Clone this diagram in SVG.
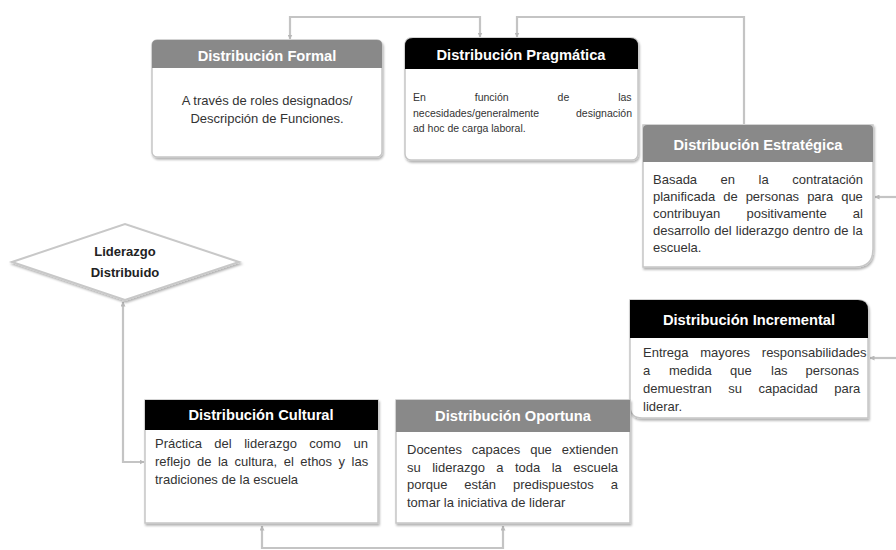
<svg xmlns="http://www.w3.org/2000/svg" width="896" height="550" viewBox="0 0 896 550">
<defs>
<style>
.hd{font-family:"Liberation Sans",Arial,sans-serif;font-weight:bold;font-size:14.7px;fill:#fff;text-anchor:middle}
.bt{font-family:"Liberation Sans",Arial,sans-serif;font-size:13px;fill:#333}
.bs{font-family:"Liberation Sans",Arial,sans-serif;font-size:10.5px;fill:#333}
.box{fill:#fff;stroke:#c6c6c6;stroke-width:1.5}
.gray{fill:#898989}
.blk{fill:#000}
.con{fill:none;stroke:#c4c4c4;stroke-width:2.2}
.dt{font-family:"Liberation Sans",Arial,sans-serif;font-weight:bold;font-size:13px;fill:#222;text-anchor:middle}
</style>
<filter id="sh" x="-10%" y="-10%" width="125%" height="130%">
<feDropShadow dx="1" dy="2" stdDeviation="1.2" flood-color="#000" flood-opacity="0.3"/>
</filter>
<marker id="ar" viewBox="0 0 10 10" refX="9" refY="5" markerWidth="5" markerHeight="5" orient="auto-start-reverse" markerUnits="userSpaceOnUse">
<path d="M0,0 L10,5 L0,10 Z" fill="#b8b8b8"/>
</marker>
</defs>
<rect width="896" height="550" fill="#fff"/>
<g id="connectors">
<path class="con" d="M290,39 V17 H480 V37" marker-start="url(#ar)" marker-end="url(#ar)"/>
<path class="con" d="M744,124 V17 H517 V37" marker-end="url(#ar)"/>
<path class="con" d="M896,197 H875" marker-end="url(#ar)"/>
<path class="con" d="M896,358 H870" marker-end="url(#ar)"/>
<path class="con" d="M123,302 V462 H144" marker-start="url(#ar)" marker-end="url(#ar)"/>
<path class="con" d="M262,526 V548 H503 V526" marker-start="url(#ar)" marker-end="url(#ar)"/>
</g>
<g id="node-liderazgo">
<polygon points="12,262 125,224 239,262 125,300" fill="#fff" stroke="#c8c8c8" stroke-width="2" filter="url(#sh)"/>
<text class="dt" x="125" y="256">Liderazgo</text>
<text class="dt" x="125" y="277">Distribuido</text>
</g>
<g id="node-formal">
<rect class="box" x="152" y="40" width="230" height="117" rx="5" filter="url(#sh)"/>
<path class="gray" d="M152,68 V45 Q152,40 157,40 H377 Q382,40 382,45 V68 Z"/>
<text class="hd" x="267" y="61">Distribución Formal</text>
<text class="bt" x="267" y="105" text-anchor="middle">A través de roles designados/</text>
<text class="bt" x="267" y="123" text-anchor="middle">Descripción de Funciones.</text>
</g>
<g id="node-pragmatica">
<rect class="box" x="405" y="38" width="233" height="122" rx="6" filter="url(#sh)"/>
<path class="blk" d="M405,69 V46 Q405,38 413,38 H630 Q638,38 638,46 V69 Z"/>
<text class="hd" x="521" y="60">Distribución Pragmática</text>
<text class="bs" x="413" y="101" word-spacing="46">En función de las</text>
<text class="bs" x="413" y="117" word-spacing="34">necesidades/generalmente designación</text>
<text class="bs" x="413" y="132">ad hoc de carga laboral.</text>
</g>
<g id="node-estrategica">
<path class="box" d="M643,125 H873 V249 Q873,267 855,267 H643 Z" filter="url(#sh)"/>
<path class="gray" d="M643,162 V129 Q643,125 647,125 H869 Q873,125 873,129 V162 Z"/>
<text class="hd" x="758" y="150">Distribución Estratégica</text>
<text class="bt" x="653" y="184" word-spacing="19.9">Basada en la contratación</text>
<text class="bt" x="653" y="201" word-spacing="4.4">planificada de personas para que</text>
<text class="bt" x="653" y="218" word-spacing="22.6">contribuyan positivamente al</text>
<text class="bt" x="653" y="235" word-spacing="0.6">desarrollo del liderazgo dentro de la</text>
<text class="bt" x="653" y="252">escuela.</text>
</g>
<g id="node-incremental">
<path class="box" d="M630,300 H858 Q868,300 868,310 V418 H642 Q630,418 630,406 Z" filter="url(#sh)"/>
<path class="blk" d="M630,338 V300 H858 Q868,300 868,310 V338 Z"/>
<text class="hd" x="749" y="325">Distribución Incremental</text>
<text class="bt" x="643" y="357" word-spacing="8.1">Entrega mayores responsabilidades</text>
<text class="bt" x="643" y="375">a</text>
<text class="bt" x="669" y="375">medida</text>
<text class="bt" x="730" y="375">que</text>
<text class="bt" x="771" y="375">las</text>
<text class="bt" x="859" y="375" text-anchor="end">personas</text>
<text class="bt" x="643" y="393" word-spacing="12.9">demuestran su capacidad para</text>
<text class="bt" x="643" y="411">liderar.</text>
</g>
<g id="node-cultural">
<rect class="box" x="145" y="400" width="233" height="123" filter="url(#sh)"/>
<rect class="blk" x="145" y="400" width="233" height="30"/>
<text class="hd" x="261" y="420">Distribución Cultural</text>
<text class="bt" x="155" y="448" word-spacing="8.8">Práctica del liderazgo como un</text>
<text class="bt" x="155" y="466" word-spacing="2.9">reflejo de la cultura, el ethos y las</text>
<text class="bt" x="155" y="484">tradiciones de la escuela</text>
</g>
<g id="node-oportuna">
<rect class="box" x="396" y="400" width="234" height="123" filter="url(#sh)"/>
<rect class="gray" x="396" y="400" width="234" height="32"/>
<text class="hd" x="513" y="421">Distribución Oportuna</text>
<text class="bt" x="407" y="454" word-spacing="6.3">Docentes capaces que extienden</text>
<text class="bt" x="407" y="472" word-spacing="7.8">su liderazgo a toda la escuela</text>
<text class="bt" x="407" y="489" word-spacing="13.2">porque están predispuestos a</text>
<text class="bt" x="407" y="507">tomar la iniciativa de liderar</text>
</g>
</svg>
